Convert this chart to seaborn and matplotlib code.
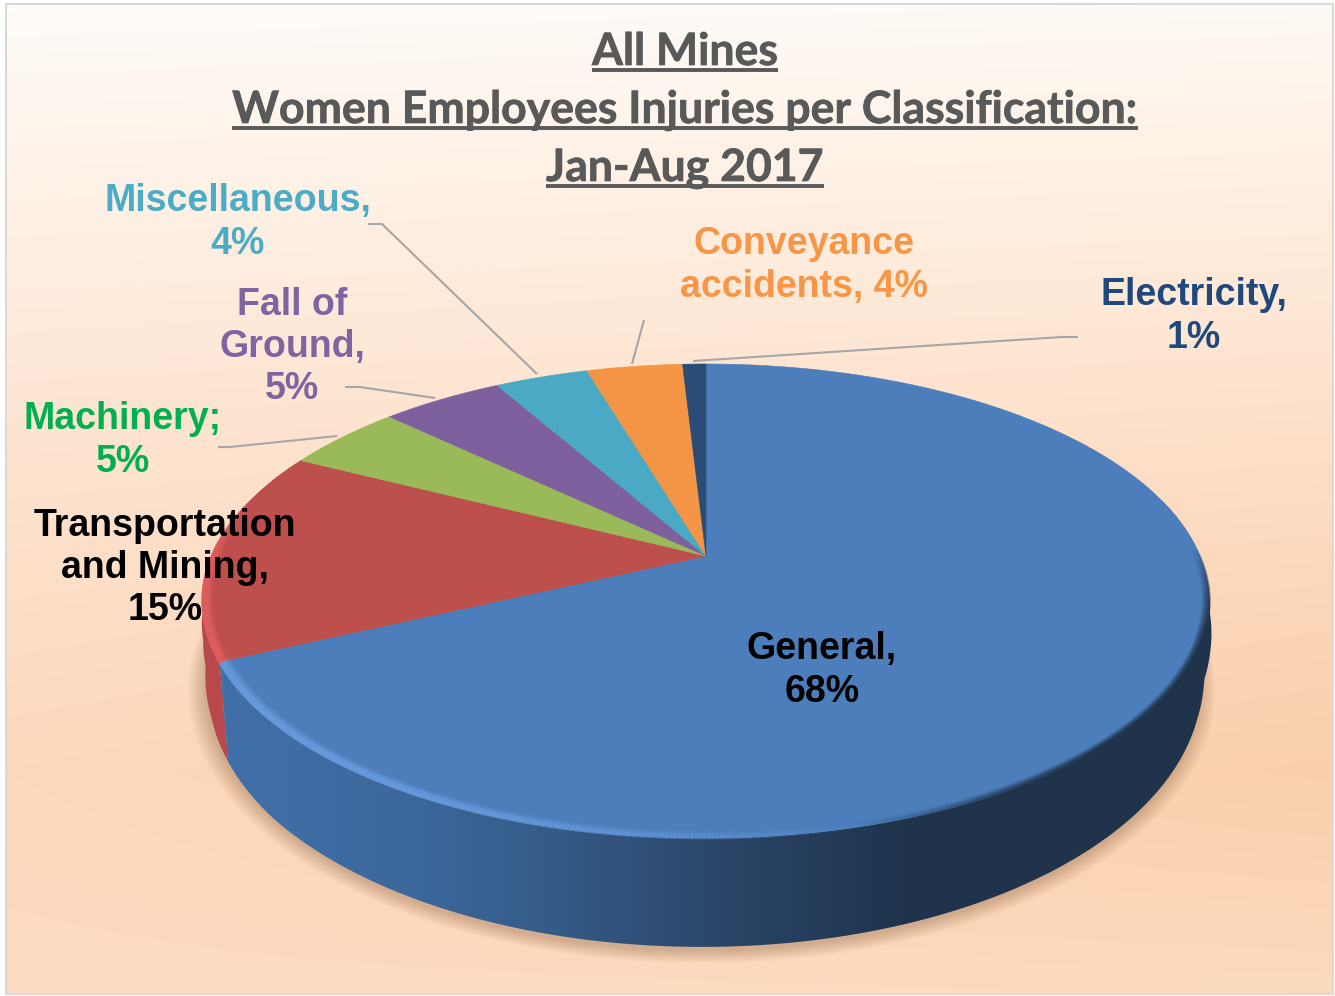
"""Tilted 3D-look pie of women employee injuries per classification (all mines)."""

import matplotlib.patheffects as pe
import matplotlib.pyplot as plt
import numpy as np
import seaborn as sns
from matplotlib.collections import LineCollection
from matplotlib.patches import PathPatch, Rectangle
from matplotlib.path import Path

# clockwise from twelve o'clock
categories = ["General", "Transportation and Mining", "Machinery", "Fall of Ground",
              "Miscellaneous", "Conveyance accidents", "Electricity"]
shares = [68.0, 14.5, 4.6, 4.7, 3.6, 3.7, 0.9]
slice_colors = ["#4c7ebb", "#bd4f4c", "#9aba59", "#7e609e", "#4aa9c5", "#f39544", "#2b4c76"]

title_lines = ["All Mines", "Women Employees Injuries per Classification:", "Jan-Aug 2017"]
label_texts = ["General,\n68%", "Transportation\nand Mining,\n15%", "Machinery;\n5%",
               "Fall of\nGround,\n5%", "Miscellaneous,\n4%", "Conveyance\naccidents, 4%",
               "Electricity,\n1%"]
label_colors = ["black", "black", "#00b050", "#8064a2", "#4bacc6", "#f79646", "#1f497d"]
label_pos = [(822, 670.5), (165, 568), (123, 440.5), (292, 347), (238, 222.5), (804, 265.5), (1194, 316.5)]
leaders = [
    [(218, 447), (230, 447), (337, 436)],
    [(345, 387), (360, 387), (435, 398)],
    [(368, 224), (382, 224), (537, 374)],
    [(644, 320), (632, 364)],
    [(1078, 337), (1062, 337), (693, 361)],
]

W, H = 1335, 996
TILT = 0.19
TOP = dict(cx=706, y0=556, rx=494, ry=228.5)
BASE = dict(cx=702, y0=631.6, rx=491, ry=255.4)


def project(theta, r=1.0, cx=706, y0=556, rx=494, ry=228.5):
    """Map angle (deg clockwise from top) on the disc to picture pixels."""
    t = np.radians(theta)
    u, v = r * np.sin(t), r * np.cos(t)
    w = 1 + TILT * v
    return cx + rx * u / w, y0 - ry * v / w


def base_outline(theta):
    """Base rim, eased towards the top rim where the wall leaves it at both sides."""
    x, y = project(theta, **BASE)
    right = np.interp(y, [600, 613, 650, 680, 720], [32, 25, 12, 2, 0])
    left = np.interp(y, [600, 620, 640, 667, 717, 763, 820], [-20, -14, -5, 3, 5, 3, 0])
    return np.where(x < BASE["cx"], x + left, x + right), y


def background(ax):
    ys = np.arange(H)
    xs = np.arange(W)
    stops_y = [0, 200, 400, 600, 770, 996]
    left = np.array([[255, 252, 249], [254, 241, 230], [254, 230, 212], [253, 222, 198],
                     [253, 216, 188], [253, 219, 193]], dtype=float)
    right = np.array([[255, 250, 245], [254, 238, 224], [254, 226, 204], [252, 214, 184],
                      [250, 208, 172], [252, 218, 190]], dtype=float)
    img = np.zeros((H, W, 3))
    for c in range(3):
        col_l = np.interp(ys, stops_y, left[:, c])
        col_r = np.interp(ys, stops_y, right[:, c])
        img[:, :, c] = np.outer(col_l, 1 - xs / W) + np.outer(col_r, xs / W)
    im = ax.imshow(img / 255, extent=(0, W, H, 0), aspect="auto", zorder=0)
    frame = Rectangle((6, 4), 1327, 990, fc="none", ec="#d9d9d9", lw=1.5, zorder=1)
    ax.add_patch(frame)
    im.set_clip_path(frame)


def ring_path(start, stop):
    """Closed wall outline between the rim of the top face and the base."""
    th = np.linspace(start, stop, 200)
    xt, yt = project(th, **TOP)
    xb, yb = base_outline(th[::-1] - 2.5)
    verts = np.column_stack([np.r_[xt, xb, xt[0]], np.r_[yt, yb, yt[0]]])
    return Path(verts, closed=True)


def rim_lines(ax, start, stop, radii, rgb, weight, lw=1.5, z=6):
    """Soft bevel: rim strokes whose alpha follows a weight over the angle."""
    th = np.linspace(start, stop, 240)
    for r, a in radii:
        x, y = project(th, r=r, **TOP)
        pts = np.column_stack([x, y]).reshape(-1, 1, 2)
        segs = np.concatenate([pts[:-1], pts[1:]], axis=1)
        cols = np.tile(np.r_[rgb, 0.0], (len(segs), 1))
        cols[:, 3] = a * weight(th[:-1])
        ax.add_collection(LineCollection(segs, colors=cols, linewidths=lw, zorder=z, capstyle="round"))


sns.set_theme(style="white")
plt.rcParams["font.family"] = ["Liberation Sans", "DejaVu Sans"]

fig = plt.figure(figsize=(W / 100, H / 100), dpi=100, facecolor="white")
ax = fig.add_axes([0, 0, 1, 1])
background(ax)

palette = sns.color_palette(slice_colors)
edges = np.r_[0, np.cumsum(shares)] / np.sum(shares) * 360

# shadow under the base
th_all = np.linspace(0, 360, 361)
for i in range(14):
    sx, sy = project(th_all, r=0.995 + 0.0024 * i, cx=BASE["cx"], y0=BASE["y0"] + 6, rx=BASE["rx"], ry=BASE["ry"])
    ax.fill(sx, sy, color="#7a5230", alpha=0.022, lw=0, zorder=2)

# side wall: red piece behind, then the blue piece with a horizontal shade
red_wall = PathPatch(ring_path(edges[1], edges[1] + 50), fc="#b8494a", ec="none", zorder=3)
ax.add_patch(red_wall)

stops_x = [200, 420, 560, 700, 900, 1210]
stops_r = [65, 60, 52, 44, 31, 31]
stops_g = [113, 103, 90, 72, 52, 51]
stops_b = [170, 155, 135, 108, 77, 74]
xx = np.arange(200, 1212)
shade = np.dstack([np.interp(xx, stops_x, s)[None, :] / 255 for s in (stops_r, stops_g, stops_b)])
blue_wall = PathPatch(ring_path(40, edges[1]), fc="none", ec="none", zorder=3)
ax.add_patch(blue_wall)
im = ax.imshow(shade, extent=(200, 1212, 960, 500), aspect="auto", zorder=4)
im.set_clip_path(blue_wall)

# top face
for start, stop, color in zip(edges[:-1], edges[1:], palette):
    th = np.linspace(start, stop, max(int(stop - start) * 2, 8))
    x, y = project(th, **TOP)
    ax.fill(np.r_[TOP["cx"], x], np.r_[TOP["y0"], y], color=color, lw=0.4, zorder=5)

# bevel highlight on the front-left rim, dark blur on the right
light = lambda t: np.clip((t - 165) / 45, 0, 1)
rim_lines(ax, 150, edges[1], [(1.0, 0.9), (0.995, 0.9), (0.99, 0.7), (0.985, 0.35), (0.98, 0.12)],
          (0.40, 0.60, 0.86), light, lw=2.0)
red_light = lambda t: np.clip((285 - t) / 25, 0, 1)
rim_lines(ax, edges[1], edges[2], [(1.0, 0.9), (0.995, 0.8), (0.99, 0.5), (0.985, 0.2)],
          (0.87, 0.37, 0.37), red_light, lw=2.0)
dark = lambda t: np.clip((165 - t) / 30, 0, 1) * np.clip((t - 88) / 25, 0, 1)
rim_lines(ax, 80, 170, [(1.0, 0.85), (0.996, 0.6), (0.992, 0.35), (0.988, 0.15)],
          (31 / 255, 51 / 255, 74 / 255), dark, lw=2.0)

for pts in leaders:
    lx, ly = zip(*pts)
    ax.plot(lx, ly, color="#a6a6a6", lw=1.5, zorder=7, solid_capstyle="butt")

for text, color, (lx, ly) in zip(label_texts, label_colors, label_pos):
    ax.text(lx, ly, text, color=color, ha="center", va="center", fontsize=27, fontweight="bold",
            linespacing=1.22, zorder=8)

renderer = fig.canvas.get_renderer()
for line, base in zip(title_lines, [65, 123, 181]):
    t = ax.text(685, base, line, color="#595959", ha="center", va="baseline", fontsize=32.1,
                fontweight="bold", family=["Lato", "DejaVu Sans"], zorder=8,
                path_effects=[pe.withStroke(linewidth=0.5, foreground="#595959")])
    box = t.get_window_extent(renderer)
    ax.plot([box.x0, box.x1], [base + 5, base + 5], color="#595959", lw=2.8, zorder=8, solid_capstyle="butt")

ax.set_xlim(0, W)
ax.set_ylim(H, 0)
ax.axis("off")
fig.savefig("out.png", dpi=100, facecolor="white")
plt.close(fig)
